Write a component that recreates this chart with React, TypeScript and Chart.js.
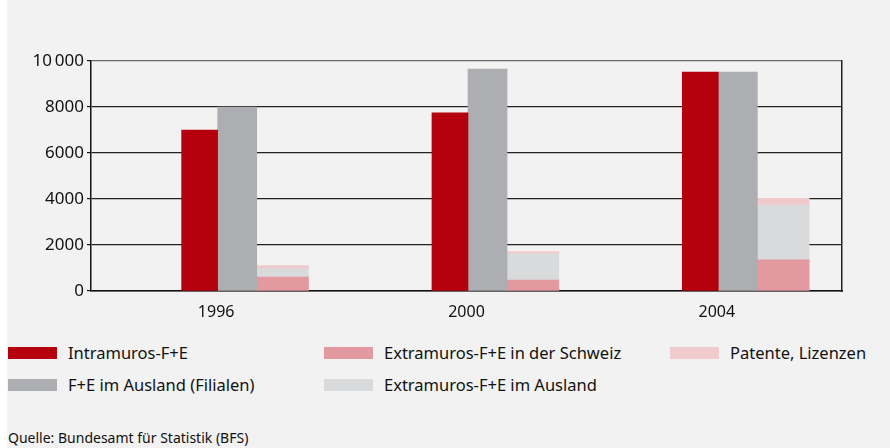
import { useEffect, useRef } from 'react';
import { Chart, registerables } from 'chart.js';

Chart.register(...registerables);

// ---- data ----
const years = ['1996', '2000', '2004'];
const intramuros = [7000, 7750, 9520];
const ausland = [8000, 9650, 9520];
const extraSchweiz = [600, 480, 1350];
const extraAusland = [370, 1140, 2390];
const patente = [130, 90, 290];
const yTickValues = [0, 2000, 4000, 6000, 8000, 10000];

const seriesNames = [
  'Intramuros-F+E',
  'F+E im Ausland (Filialen)',
  'Extramuros-F+E in der Schweiz',
  'Extramuros-F+E im Ausland',
  'Patente, Lizenzen',
];
const seriesColors = ['#b5000e', '#adaeb1', '#e2999f', '#d9dadc', '#f1cacd'];
const source = 'Quelle: Bundesamt für Statistik (BFS)';

// ---- layout constants (not data) ----
const FONT = '"Noto Sans", "Open Sans", sans-serif';
const OFF_A = -0.066;
const OFF_B = 0.084;
const OFF_C = 0.265;
const W_A = 36;
const W_B = 39;
const W_C = 52;

function fmt(v: number) {
  if (v >= 10000) {
    const s = String(v);
    return s.slice(0, s.length - 3) + '\u2009' + s.slice(-3);
  }
  return String(v);
}

const hiddenX = (id: string) => ({
  [id]: {
    type: 'linear' as const,
    display: false,
    min: -0.5,
    max: years.length - 0.5,
    offset: false,
  },
});

export default function App() {
  const ref = useRef<HTMLCanvasElement | null>(null);

  useEffect(() => {
    if (!ref.current) return;
    const pts = (arr: number[], off: number) => arr.map((v, i) => ({ x: i + off, y: v }));
    const common = {
      grouped: false,
      barPercentage: 1,
      categoryPercentage: 1,
      borderWidth: 0,
    };
    const chart = new Chart(ref.current, {
      type: 'bar',
      data: {
        labels: years,
        datasets: [
          { ...common, label: seriesNames[0], data: pts(intramuros, OFF_A), backgroundColor: seriesColors[0], xAxisID: 'xa', stack: 'a', maxBarThickness: W_A },
          { ...common, label: seriesNames[1], data: pts(ausland, OFF_B), backgroundColor: seriesColors[1], xAxisID: 'xb', stack: 'b', maxBarThickness: W_B },
          { ...common, label: seriesNames[2], data: pts(extraSchweiz, OFF_C), backgroundColor: seriesColors[2], xAxisID: 'xc', stack: 'c', maxBarThickness: W_C },
          { ...common, label: seriesNames[3], data: pts(extraAusland, OFF_C), backgroundColor: seriesColors[3], xAxisID: 'xc', stack: 'c', maxBarThickness: W_C },
          { ...common, label: seriesNames[4], data: pts(patente, OFF_C), backgroundColor: seriesColors[4], xAxisID: 'xc', stack: 'c', maxBarThickness: W_C },
        ] as any,
      },
      options: {
        animation: false,
        responsive: false,
        maintainAspectRatio: false,
        layout: { padding: { top: 61, left: 0, right: 0, bottom: 0 } },
        plugins: { legend: { display: false }, tooltip: { enabled: false } },
        scales: {
          x: {
            type: 'category',
            offset: true,
            grid: { display: false, drawTicks: false },
            border: { display: true, color: '#111', width: 1.5 },
            ticks: { color: '#111', font: { family: FONT, size: 16 }, padding: 12 },
            afterFit: (s: any) => { s.height = 39; },
          },
          ...hiddenX('xa'),
          ...hiddenX('xb'),
          ...hiddenX('xc'),
          y: {
            type: 'linear',
            position: 'left',
            stacked: true,
            min: 0,
            max: 10000,
            afterBuildTicks: (s: any) => { s.ticks = yTickValues.map((v) => ({ value: v })); },
            ticks: {
              color: '#111',
              font: { family: FONT, size: 17 },
              padding: 3,
              callback: (v: any) => fmt(Number(v)),
            },
            grid: {
              color: (c: any) => (c.tick && c.tick.value === 10000 ? '#6a6a6a' : '#222'),
              lineWidth: 1.2,
              tickLength: 4,
              tickColor: '#111',
              drawTicks: true,
            },
            border: { display: true, color: '#111', width: 1.5 },
            afterFit: (s: any) => { s.width = 84; },
          },
          y2: {
            type: 'linear',
            position: 'right',
            min: 0,
            max: 10000,
            ticks: { display: false },
            grid: { drawOnChartArea: false, drawTicks: false },
            border: { display: true, color: '#222', width: 1.5 },
            afterFit: (s: any) => { s.width = 48; },
          },
        } as any,
      },
    });
    return () => chart.destroy();
  }, []);

  const legendCols = [8, 324, 670];
  const legendRows = [353, 385];
  // column-major legend order
  const legendItems = seriesNames.map((name, i) => ({
    name,
    color: seriesColors[i],
    col: Math.floor(i / 2),
    row: i % 2,
  }));

  return (
    <div style={{ position: 'absolute', left: 0, top: 0, width: 890, height: 448, background: '#fff', overflow: 'hidden' }}>
      <div style={{ position: 'absolute', left: 7, top: 0, width: 883, height: 448, background: '#f2f2f2' }}>
        <canvas ref={ref} width={883} height={330} style={{ position: 'absolute', left: 0, top: 0, width: 883, height: 330 }} />
      </div>
      {legendItems.map((it) => (
        <div key={it.name}>
          <div style={{ position: 'absolute', left: legendCols[it.col], top: legendRows[it.row] - 6, width: 49, height: 12, background: it.color }} />
          <div style={{ position: 'absolute', left: legendCols[it.col] + 60, top: legendRows[it.row] - 12, height: 24, lineHeight: '24px', fontFamily: FONT, fontSize: 16.5, color: '#111', whiteSpace: 'nowrap' }}>{it.name}</div>
        </div>
      ))}
      <div style={{ position: 'absolute', left: 8, top: 428, lineHeight: '20px', fontFamily: FONT, fontSize: 14, color: '#111', whiteSpace: 'nowrap' }}>{source}</div>
    </div>
  );
}
